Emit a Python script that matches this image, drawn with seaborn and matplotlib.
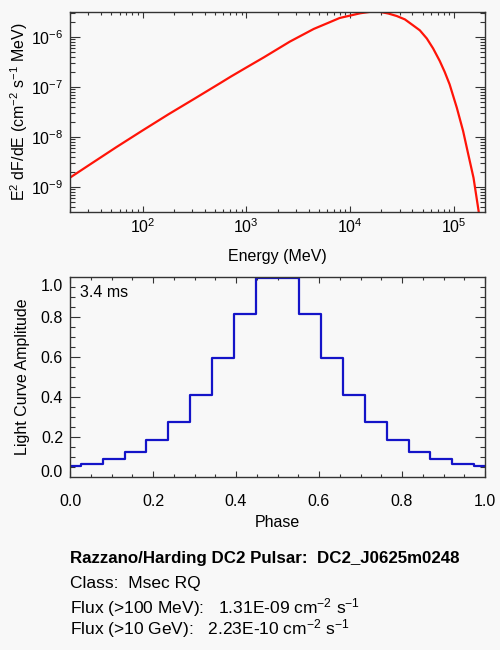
import numpy as np
import seaborn as sns
import matplotlib
matplotlib.use('Agg')
import matplotlib.pyplot as plt
from matplotlib.ticker import LogLocator, MultipleLocator, NullFormatter, FixedLocator, FormatStrFormatter

# スペクトル (E^2 dF/dE) を画像から読み取った値
energy = [20, 31.6, 56.2, 100, 178, 316, 562, 708, 1000, 1480, 2630, 4470,
          6460, 7940, 10000, 12600, 15500, 17400, 19500, 23400, 28200, 33800,
          40700, 47100, 55000, 63200, 73300, 81800, 91200, 107000, 123000,
          138000, 155000, 174000]
e2dfde = [1.54e-9, 2.88e-9, 6.31e-9, 1.35e-8, 2.85e-8, 5.82e-8, 1.20e-7,
          1.61e-7, 2.45e-7, 3.93e-7, 8.09e-7, 1.45e-6, 2.0e-6, 2.40e-6,
          2.68e-6, 2.99e-6, 3.18e-6, 3.24e-6, 3.18e-6, 2.95e-6, 2.63e-6,
          2.25e-6, 1.70e-6, 1.36e-6, 9.33e-7, 5.92e-7, 3.31e-7, 2.0e-7,
          1.13e-7, 3.85e-8, 1.32e-8, 4.49e-9, 1.53e-9, 3.2e-10]

# 光度曲線 (位相ごとの振幅)
phase = [0.0, 0.0526, 0.1053, 0.1579, 0.2105, 0.2632, 0.3158, 0.3684,
         0.4211, 0.4737, 0.5263, 0.5789, 0.6316, 0.6842, 0.7368, 0.7895,
         0.8421, 0.8947, 0.9474, 1.0]
amplitude = [0.056, 0.066, 0.088, 0.125, 0.186, 0.277, 0.411, 0.597, 0.817,
             0.995, 0.995, 0.817, 0.597, 0.411, 0.277, 0.186, 0.125, 0.088,
             0.066, 0.056]
amp_ticks = [0.2, 0.4, 0.6, 0.8]
amp_minor = [0.05, 0.1, 0.15, 0.25, 0.3, 0.35, 0.45, 0.5, 0.55, 0.65, 0.7,
             0.75, 0.85, 0.9, 0.95]

period_text = '3.4 ms'
info_lines = [
    'Razzano/Harding DC2 Pulsar:  DC2_J0625m0248',
    'Class:  Msec RQ',
    'Flux (>100 MeV):   1.31E-09 cm$^{-2}$ s$^{-1}$',
    'Flux (>10 GeV):   2.23E-10 cm$^{-2}$ s$^{-1}$',
]

bg = '#f8f8f8'
sns.set_theme(style='ticks')
plt.rcParams['font.family'] = ['Liberation Sans', 'DejaVu Sans']
plt.rcParams['mathtext.fontset'] = 'custom'
plt.rcParams['mathtext.rm'] = 'Liberation Sans'
plt.rcParams['mathtext.it'] = 'Liberation Sans'
plt.rcParams['figure.facecolor'] = bg
plt.rcParams['axes.facecolor'] = bg
plt.rcParams['axes.edgecolor'] = '#333333'
plt.rcParams['axes.linewidth'] = 1.0
plt.rcParams['text.color'] = 'black'
plt.rcParams['axes.labelcolor'] = 'black'
plt.rcParams['xtick.color'] = '#333333'
plt.rcParams['ytick.color'] = '#333333'
plt.rcParams['xtick.labelcolor'] = 'black'
plt.rcParams['ytick.labelcolor'] = 'black'

fig = plt.figure(figsize=(5, 6.5), dpi=100)
ax1 = fig.add_axes([0.14, 0.6738, 0.83, 0.3077])
ax2 = fig.add_axes([0.14, 0.2662, 0.83, 0.3072])

fs = 11.5


def style_ticks(ax, xpad):
    ax.tick_params(which='both', direction='in', top=True, right=True,
                   labelsize=fs, width=0.8)
    ax.tick_params(axis='x', which='major', length=4.5, pad=xpad)
    ax.tick_params(axis='x', which='minor', length=2.5)
    ax.tick_params(axis='y', which='major', length=7, pad=5)
    ax.tick_params(axis='y', which='minor', length=3.5)


# 上段: スペクトル
ax1.set_xscale('log')
ax1.set_yscale('log')
sns.lineplot(x=energy, y=e2dfde, ax=ax1, color='#ff1408', linewidth=1.6,
             sort=False, estimator=None)
ax1.set_xlim(20, 2.0e5)
ax1.set_ylim(3.16e-10, 3.16e-6)
ax1.xaxis.set_major_locator(LogLocator(base=10, numticks=10))
ax1.xaxis.set_minor_locator(LogLocator(base=10, subs=np.arange(2, 10), numticks=20))
ax1.yaxis.set_major_locator(LogLocator(base=10, numticks=10))
ax1.yaxis.set_minor_locator(LogLocator(base=10, subs=np.arange(2, 10), numticks=20))
ax1.xaxis.set_minor_formatter(NullFormatter())
ax1.yaxis.set_minor_formatter(NullFormatter())
ax1.set_xlabel('Energy (MeV)', fontsize=fs, labelpad=9)
ax1.set_ylabel('E$^2$ dF/dE (cm$^{-2}$ s$^{-1}$ MeV)', fontsize=fs, labelpad=0.5)
style_ticks(ax1, 4)

# 下段: 光度曲線
sns.lineplot(x=phase, y=amplitude, ax=ax2, color='#1414c8', linewidth=1.6,
             drawstyle='steps-mid', sort=False, estimator=None)
ax2.set_xlim(0, 1)
ax2.set_ylim(0, 1.0)
ax2.xaxis.set_major_locator(MultipleLocator(0.2))
ax2.xaxis.set_minor_locator(MultipleLocator(0.05))
ax2.yaxis.set_major_locator(FixedLocator(amp_ticks))
ax2.yaxis.set_minor_locator(FixedLocator(amp_minor))
ax2.xaxis.set_major_formatter(FormatStrFormatter('%.1f'))
ax2.yaxis.set_major_formatter(FormatStrFormatter('%.1f'))
# 0.0 と 1.0 のラベルは軸の内側に寄せて描く
ytr = ax2.get_yaxis_transform()
ax2.text(-0.017, 0.0, '0.0', transform=ytr, fontsize=fs, ha='right', va='baseline')
ax2.text(-0.017, 0.993, '1.0', transform=ytr, fontsize=fs, ha='right', va='top')
ax2.set_xlabel('Phase', fontsize=fs, labelpad=4)
ax2.set_ylabel('Light Curve Amplitude', fontsize=fs, labelpad=8)
ax2.text(0.024, 0.9, period_text, transform=ax2.transAxes, fontsize=fs,
         va='baseline', ha='left')
style_ticks(ax2, 12.5)

# 下部の説明文
baselines = [0.1333, 0.0949, 0.0565, 0.0246]
for i, (line, yb) in enumerate(zip(info_lines, baselines)):
    fig.text(0.141, yb, line, fontsize=12.2 if i == 0 else 12.5,
             va='baseline', ha='left',
             fontweight='bold' if i == 0 else 'normal')

fig.savefig('out.png', dpi=100, facecolor=bg)
